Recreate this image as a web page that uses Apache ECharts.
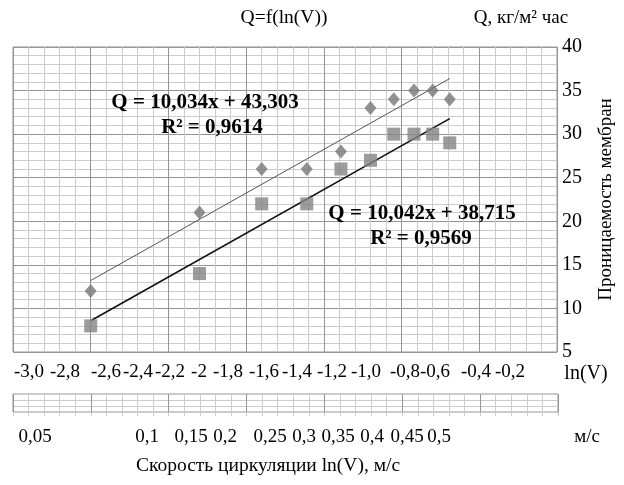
<!DOCTYPE html>
<html>
<head>
<meta charset="utf-8">
<script src="https://cdn.jsdelivr.net/npm/echarts@6/dist/echarts.min.js"></script>
<style>
html,body{margin:0;padding:0;background:#fff;}
#chart{width:624px;height:485px;}
</style>
</head>
<body>
<div id="chart"></div>
<script>
// ---- data ----
const lnV = [-3.0, -2.3, -1.9, -1.61, -1.39, -1.2, -1.05, -0.92, -0.8, -0.69];
const qUpper = [12, 21, 26, 26, 28, 33, 34, 35, 35, 34];
const qLower = [8, 14, 22, 22, 26, 27, 30, 30, 30, 29];
const fitUpper = [10.034, 43.303];
const fitLower = [10.042, 38.715];
const lnTickLabels = ['-3,0','-2,8','-2,6','-2,4','-2,2','-2','-1,8','-1,6','-1,4','-1,2','-1,0','-0,8','-0,6','-0,4','-0,2'];
const vTickLabels = ['0,05','0,1','0,15','0,2','0,25','0,3','0,35','0,4','0,45','0,5'];
const eqUpper = ['Q = 10,034x + 43,303', 'R² = 0,9614'];
const eqLower = ['Q = 10,042x + 38,715', 'R² = 0,9569'];

// ---- layout (pixel positions of free-standing text) ----
const lnLabelX = [29,65,106,138,170,199,228,264,297,332,366,405,435,476,510];
const vLabelX = [35,147,191,225,270,304,338,372,407,439];

const FONT = 'Liberation Serif';
const pts = (xs, ys) => xs.map((x, i) => [x, ys[i]]);
const xMinD = Math.min(...lnV), xMaxD = Math.max(...lnV);
const fitLine = f => [[xMinD, f[0]*xMinD + f[1]], [xMaxD, f[0]*xMaxD + f[1]]];

const graphics = [];
const txt = (text, x, y, opt) => graphics.push({
  type: 'text', x: x, y: y, silent: true, z: 10,
  style: Object.assign({text: text, fill: '#000', fontFamily: FONT, fontSize: 19, fontWeight: 'normal',
    align: 'center', verticalAlign: 'middle', lineWidth: 0}, opt || {})
});
lnTickLabels.forEach((t, i) => txt(t, lnLabelX[i], 372));
vTickLabels.forEach((t, i) => txt(t, vLabelX[i], 437));
txt('ln(V)', 586, 374, {fontSize: 20});
txt('м/с', 587, 437);
txt('Скорость циркуляции ln(V), м/с', 268, 466, {fontSize: 19.5});
txt('Q=f(ln(V))', 284, 18, {fontSize: 19.5});
txt('Q, кг/м² час', 521, 18, {fontSize: 19});
const bold = {fontWeight: 'bold', fontSize: 21};
txt(eqUpper[0], 205, 103, bold);
txt(eqUpper[1], 212, 128, bold);
txt(eqLower[0], 422, 214, bold);
txt(eqLower[1], 421, 239, bold);

const major = '#959595', minor = '#cccccc';

const chart = echarts.init(document.getElementById('chart'), null, {renderer: 'canvas'});
chart.setOption({
  backgroundColor: '#fff',
  animation: false,
  textStyle: {fontFamily: FONT},
  grid: [
    {left: 13, right: 66, top: 47, bottom: 133, show: true, borderColor: major, borderWidth: 1, backgroundColor: 'transparent'},
    {left: 13, right: 66, top: 394, bottom: 73, show: true, borderColor: major, borderWidth: 1, backgroundColor: 'transparent'}
  ],
  xAxis: [
    {type: 'value', gridIndex: 0, min: -3.5, max: 0, interval: 0.5,
     axisLine: {show: false}, axisTick: {show: false}, axisLabel: {show: false},
     splitLine: {show: true, lineStyle: {color: major, width: 1}},
     minorTick: {show: false, splitNumber: 5},
     minorSplitLine: {show: true, lineStyle: {color: minor, width: 1}}},
    {type: 'value', gridIndex: 1, min: -3.5, max: 0, interval: 0.5,
     axisLine: {show: false}, axisLabel: {show: false},
     axisTick: {show: true, length: 4, lineStyle: {color: minor}},
     minorTick: {show: true, splitNumber: 5, length: 4, lineStyle: {color: minor}},
     splitLine: {show: true, lineStyle: {color: major, width: 1}},
     minorSplitLine: {show: true, lineStyle: {color: minor, width: 1}}}
  ],
  yAxis: [
    {type: 'value', gridIndex: 0, position: 'right', min: 5, max: 40, interval: 5,
     name: 'Проницаемость мембран', nameLocation: 'middle', nameRotate: 90, nameGap: 40,
     nameTextStyle: {fontFamily: FONT, fontSize: 19, color: '#000'},
     axisLine: {show: false}, axisTick: {show: false},
     axisLabel: {fontFamily: FONT, fontSize: 20, color: '#000', margin: 5},
     splitLine: {show: true, lineStyle: {color: major, width: 1}},
     minorTick: {show: false, splitNumber: 5},
     minorSplitLine: {show: true, lineStyle: {color: minor, width: 1}}},
    {type: 'value', gridIndex: 1, min: 0, max: 3, interval: 1,
     axisLine: {show: false}, axisTick: {show: false}, axisLabel: {show: false},
     splitLine: {show: true, lineStyle: {color: minor, width: 1}}}
  ],
  series: [
    {type: 'line', xAxisIndex: 0, yAxisIndex: 0, data: fitLine(fitUpper), symbol: 'none',
     lineStyle: {color: '#555', width: 1}, z: 3},
    {type: 'line', xAxisIndex: 0, yAxisIndex: 0, data: fitLine(fitLower), symbol: 'none',
     lineStyle: {color: '#111', width: 1.6}, z: 3},
    {type: 'scatter', xAxisIndex: 0, yAxisIndex: 0, data: pts(lnV, qUpper), symbol: 'diamond', symbolSize: [12, 14],
     itemStyle: {color: '#777'}, z: 4},
    {type: 'scatter', xAxisIndex: 0, yAxisIndex: 0, data: pts(lnV, qLower), symbol: 'rect', symbolSize: 13,
     itemStyle: {color: '#838383'}, z: 4}
  ],
  graphic: graphics
});
</script>
</body>
</html>
